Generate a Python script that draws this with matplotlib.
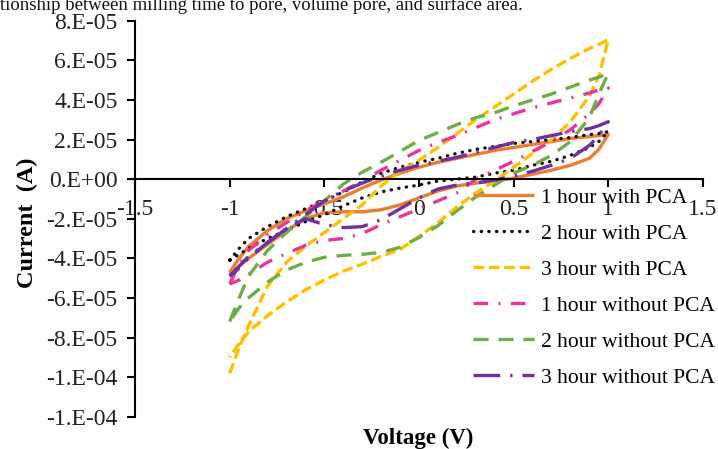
import matplotlib
matplotlib.use('Agg')
import matplotlib.pyplot as plt

plt.rcParams['font.family'] = ['Liberation Serif', 'DejaVu Serif']

# voltage sweep (V): -1 -> +1 -> -1
v_fwd = [-1.0, -0.95, -0.9, -0.8, -0.7, -0.6, -0.5, -0.4, -0.3, -0.2, -0.1, 0.0,
         0.1, 0.2, 0.3, 0.4, 0.5, 0.6, 0.7, 0.8, 0.9, 0.95, 1.0]
v_rev = [0.95, 0.9, 0.8, 0.7, 0.6, 0.5, 0.4, 0.3, 0.2, 0.1, 0.0,
         -0.1, -0.2, -0.3, -0.4, -0.5, -0.6, -0.7, -0.8, -0.9, -0.95, -1.0]
voltage = v_fwd + v_rev

# currents in units of 1e-5 A (forward sweep then reverse sweep)
i_1h_pca = [-4.7, -4.0, -3.4, -2.6, -2.0, -1.6, -1.25, -0.9, -0.45, -0.05, 0.3, 0.6,
            0.85, 1.05, 1.25, 1.45, 1.6, 1.75, 1.9, 2.05, 2.15, 2.2, 2.25,
            1.5, 1.05, 0.7, 0.45, 0.25, 0.05, -0.1, -0.2, -0.35, -0.6, -0.95,
            -1.3, -1.55, -1.65, -1.65, -1.7, -2.0, -2.6, -3.3, -4.0, -4.4, -4.8]
i_2h_pca = [-4.1, -3.5, -3.0, -2.4, -1.9, -1.5, -1.1, -0.65, -0.15, 0.3, 0.6, 0.85,
            1.05, 1.3, 1.5, 1.65, 1.8, 1.9, 2.0, 2.1, 2.25, 2.3, 2.4,
            1.9, 1.6, 1.2, 0.9, 0.7, 0.45, 0.3, 0.1, 0.0, -0.1, -0.3,
            -0.45, -0.65, -0.95, -1.35, -1.8, -2.15, -2.6, -3.0, -3.5, -3.8, -4.1]
i_3h_pca = [-9.8, -8.5, -7.4, -5.4, -4.2, -3.4, -2.7, -2.0, -1.3, -0.35, 0.4, 0.95,
            1.6, 2.3, 3.0, 3.65, 4.3, 4.95, 5.55, 6.1, 6.6, 6.8, 7.05,
            5.2, 4.2, 2.9, 2.0, 1.3, 0.6, -0.1, -0.7, -1.4, -2.2, -2.9,
            -3.55, -3.9, -4.3, -4.65, -5.1, -5.6, -6.2, -6.9, -7.7, -8.3, -9.0]
i_1h_nopca = [-5.3, -4.3, -3.6, -2.8, -2.2, -1.6, -1.1, -0.6, -0.1, 0.45, 0.95, 1.45,
              1.85, 2.2, 2.6, 3.0, 3.3, 3.6, 3.85, 4.1, 4.35, 4.5, 4.6,
              3.8, 3.3, 2.5, 1.9, 1.4, 0.9, 0.45, 0.0, -0.7, -1.1, -1.5,
              -1.9, -2.3, -2.75, -3.0, -3.1, -3.35, -3.75, -4.2, -4.8, -5.1, -5.3]
i_2h_nopca = [-7.2, -6.0, -4.9, -3.6, -2.7, -1.9, -1.1, -0.25, 0.35, 0.85, 1.4, 1.95,
              2.35, 2.75, 3.1, 3.35, 3.7, 4.0, 4.3, 4.65, 5.0, 5.15, 5.35,
              4.3, 3.1, 1.9, 1.2, 0.7, 0.3, -0.3, -0.9, -1.6, -2.35, -2.95,
              -3.45, -3.7, -3.8, -3.85, -3.95, -4.2, -4.6, -5.2, -6.0, -6.5, -7.2]
i_3h_nopca = [-4.9, -4.4, -3.9, -3.2, -2.5, -1.8, -1.1, -0.6, -0.2, 0.15, 0.45, 0.7,
              0.9, 1.1, 1.35, 1.6, 1.85, 2.0, 2.2, 2.4, 2.55, 2.7, 2.9,
              2.2, 1.7, 1.05, 0.7, 0.4, 0.15, -0.05, -0.2, -0.3, -0.5, -0.95,
              -1.5, -2.05, -2.4, -2.45, -2.3, -2.0, -2.5, -3.2, -4.0, -4.5, -4.9]

labels = ['1 hour with PCA', '2 hour with PCA', '3 hour with PCA',
          '1 hour without PCA', '2 hour without PCA', '3 hour without PCA']

y_ticks = [8e-5, 6e-5, 4e-5, 2e-5, 0, -2e-5, -4e-5, -6e-5, -8e-5, -1e-4, -1.2e-4]
y_ticklabels = ['8.E-05', '6.E-05', '4.E-05', '2.E-05', '0.E+00', '-2.E-05',
                '-4.E-05', '-6.E-05', '-8.E-05', '-1.E-04', '-1.E-04']
x_ticks = [-1.5, -1, -0.5, 0, 0.5, 1, 1.5]
x_ticklabels = ['-1.5', '-1', '-0.5', '0', '0.5', '1', '1.5']

fig = plt.figure(figsize=(7.18, 4.49), dpi=100)
ax = fig.add_axes([135 / 718, 1 - 416.7 / 449, 568 / 718, 396 / 449])

lw = 2.4
series = [
    (i_1h_pca, '#ED7D31', None),
    (i_2h_pca, '#111111', [0.1, 2.2]),
    (i_3h_pca, '#FFC000', [3.2, 1.4]),
    (i_1h_nopca, '#E8369E', [4.4, 3.1, 0.6, 3.1]),
    (i_2h_nopca, '#70AD47', [4.5, 3.0]),
    (i_3h_nopca, '#7030A0', [8.0, 3.0, 0.7, 3.0]),
]
for (cur, col, dash), lab in zip(series, labels):
    line, = ax.plot(voltage, [c * 1e-5 for c in cur], color=col, lw=lw, label=lab,
                    solid_capstyle='butt')
    if dash is not None:
        line.set_dashes(dash)
        line.set_dash_capstyle('round' if dash[0] < 0.5 else 'butt')

ax.set_xlim(-1.5, 1.5)
ax.set_ylim(-1.2e-4, 8e-5)
ax.spines['top'].set_visible(False)
ax.spines['right'].set_visible(False)
ax.spines['bottom'].set_position(('data', 0))
for s in ['left', 'bottom']:
    ax.spines[s].set_linewidth(1.5)

ax.set_xticks(x_ticks)
ax.set_xticklabels(x_ticklabels)
ax.set_yticks(y_ticks)
ax.set_yticklabels(y_ticklabels)
ax.tick_params(axis='both', labelsize=17, labelcolor='#222222', width=1.5, length=6)
ax.tick_params(axis='x', pad=8)
ax.tick_params(axis='y', pad=6.5)

ax.set_ylabel('Current  (A)', fontsize=17.5, fontweight='bold')
ax.yaxis.set_label_coords(-0.17, 0.49)
ax.set_xlabel('Voltage (V)', fontsize=16.5, fontweight='bold')
ax.xaxis.set_label_coords(0.498, -0.028)

ax.legend(loc='upper left', bbox_to_anchor=(462 / 718, 1 - 177 / 449),
          bbox_transform=fig.transFigure, frameon=False, fontsize=15.5,
          handlelength=2.85, handletextpad=0.3, labelspacing=0.74, borderpad=0)

fig.text(0.0, 1 - 10 / 449,
         'tionship between milling time to pore, volume pore, and surface area.',
         ha='left', va='baseline', fontsize=13.5, color='#111111')

fig.savefig('out.png', dpi=100)
